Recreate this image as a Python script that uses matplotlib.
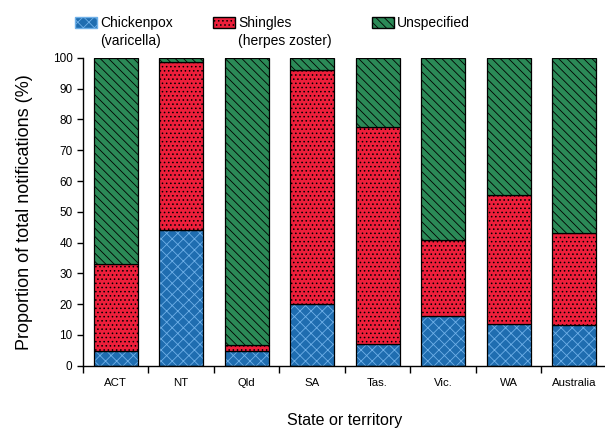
import matplotlib.pyplot as plt
import numpy as np
from matplotlib.patches import Patch

plt.rcParams.update({
    'font.family': 'Liberation Sans',
    'hatch.linewidth': 0.6,
})

states = ["ACT", "NT", "Qld", "SA", "Tas.", "Vic.", "WA", "Australia"]
chickenpox = [4.9, 44.2, 4.9, 20.2, 7.2, 16.3, 13.4, 13.1]
shingles = [28.1, 54.4, 1.7, 75.8, 70.3, 24.7, 42.0, 30.1]
unspecified = [67.0, 1.4, 93.4, 4.0, 22.5, 59.0, 44.6, 56.8]

series = [
    ("Chickenpox", "(varicella)", chickenpox, "#1f6db0", "#6fb0e8", "xxx"),
    ("Shingles", "(herpes zoster)", shingles, "#ee1f3b", "black", "...."),
    ("Unspecified", "", unspecified, "#2b8a57", "black", "\\\\\\\\"),
]
legend_x = [75, 213, 372]  # left edge of each legend key, px

fig = plt.figure(figsize=(6.05, 4.28), dpi=100)
ax = fig.add_axes([0.137, 0.1456, 0.866, 0.719])

x = np.arange(len(states))
w = 0.67
bottom = np.zeros(len(states))
handles = []
for label, sub, vals, fc, hc, hatch in series:
    vals = np.array(vals)
    # fill + hatch first, then black outline on top
    ax.bar(x, vals, w, bottom=bottom, color=fc, edgecolor=hc, hatch=hatch, linewidth=0)
    ax.bar(x, vals, w, bottom=bottom, fill=False, edgecolor="black", linewidth=0.9)
    bottom += vals
    handles.append(Patch(facecolor=fc, edgecolor=hc, hatch=hatch, label=label))

ax.set_xlim(-0.5, 7.5)
ax.set_ylim(0, 100)
ax.set_yticks(np.arange(0, 101, 10))
ax.set_xticks(x)
ax.set_xticklabels(states)
ax.set_xticks(np.arange(-0.5, 7.6, 1), minor=True)
ax.tick_params(axis='x', which='major', length=0, labelsize=8.2, pad=9)
ax.tick_params(axis='x', which='minor', length=5, width=1)
ax.tick_params(axis='y', labelsize=8.5, length=4, width=1)
for s in ['top', 'right']:
    ax.spines[s].set_visible(False)
ax.spines['left'].set_linewidth(1)
ax.spines['bottom'].set_linewidth(1)

ax.set_ylabel("Proportion of total notifications (%)", fontsize=13, labelpad=14)
ax.set_xlabel("State or territory", fontsize=11.5, labelpad=18)

legs = []
for h, lx in zip(handles, legend_x):
    lg = fig.legend(handles=[h], loc='upper left', bbox_to_anchor=(lx / 605, 1 - 16 / 428),
                    frameon=False, fontsize=10, handlelength=1.6, handleheight=0.85,
                    handletextpad=0.2, borderpad=0, borderaxespad=0)
    legs.append(lg)

# second line of the legend labels, placed under the first line
fig.canvas.draw()
inv = fig.transFigure.inverted()
for lg, s in zip(legs, series):
    if s[1]:
        bb = lg.get_texts()[0].get_window_extent()
        x0, y0 = inv.transform((bb.x0, bb.y0))
        fig.text(x0, y0 - 0.009, s[1], fontsize=10, va='top', ha='left')

plt.savefig("out.png", dpi=100)
